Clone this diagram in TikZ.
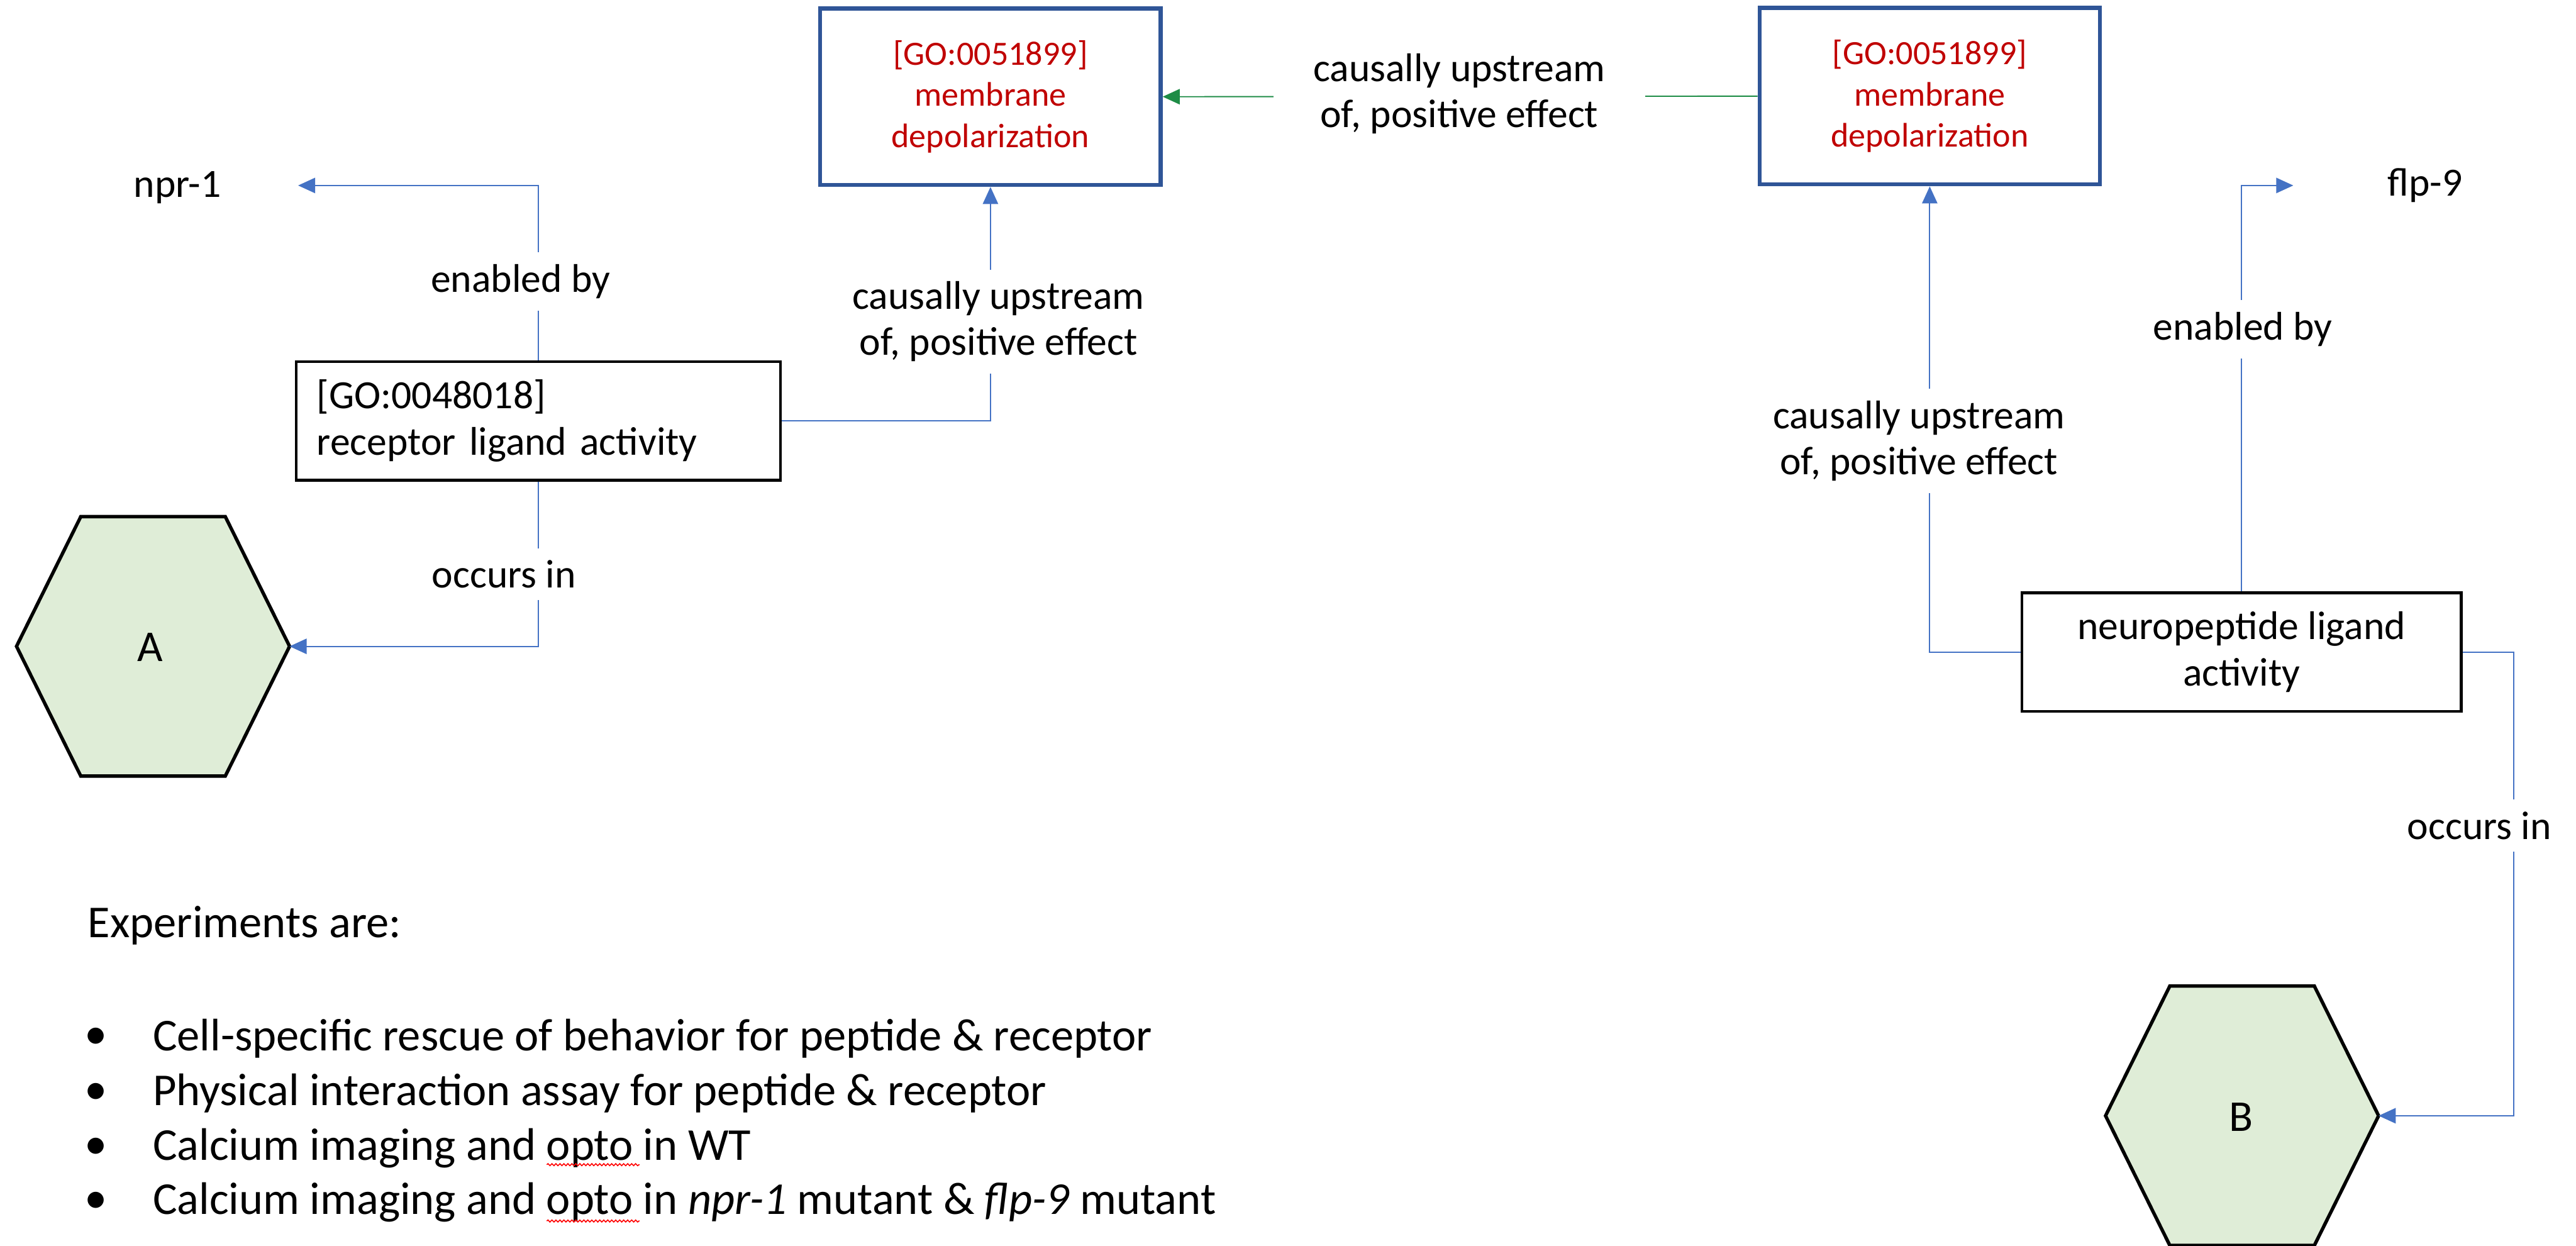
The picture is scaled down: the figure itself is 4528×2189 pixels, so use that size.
\documentclass[tikz,border=0pt]{standalone}
\usepackage{fontspec}
\setmainfont{Carlito}
\usetikzlibrary{arrows.meta,decorations.pathmorphing}
\definecolor{linkblue}{RGB}{68,114,196}
\definecolor{linkgreen}{RGB}{30,140,70}
\definecolor{goblue}{RGB}{47,85,151}
\definecolor{gored}{RGB}{192,0,0}
\definecolor{hexgreen}{RGB}{223,237,215}
\begin{document}
\begin{tikzpicture}[x=0.01cm,y=-0.01cm,
  conn/.style={draw=linkblue, line width=0.6pt, -{Triangle[length=0.3cm,width=0.27cm]}},
  lbl/.style={fill=white, inner sep=6pt, align=center, font=\fontsize{20}{22.8}\selectfont},
  plaintext/.style={inner sep=0pt, font=\fontsize{20}{22.8}\selectfont},
  gobox/.style={draw=goblue, line width=2pt, minimum width=5.98cm, minimum height=3.1cm,
    inner sep=0pt, align=center, text=gored, font=\fontsize{17}{20.5}\selectfont},
  actbox/.style={draw=black, line width=1.3pt, minimum height=2.08cm, inner sep=0pt,
    font=\fontsize{20}{23.3}\selectfont},
  hexcell/.style={draw=black, line width=1.7pt, fill=hexgreen, line join=miter},
  hexlabel/.style={inner sep=0pt, font=\fontsize{22}{26}\selectfont},
  listtext/.style={anchor=west, inner sep=0pt, font=\fontsize{22.8}{27}\selectfont},
  spell/.style={draw=red, line width=0.5pt, decorate,
    decoration={snake, amplitude=0.018cm, segment length=0.07cm}}
]
\useasboundingbox (0,0) rectangle (4528,2189);

% process boxes
\node[gobox] (go1) at (1741,170) {[GO:0051899]\\membrane\\depolarization};
\node[gobox] (go2) at (3392,169) {[GO:0051899]\\membrane\\depolarization};

% activity boxes
\node[actbox, minimum width=8.51cm, text width=7.79cm, inner xsep=0.36cm, align=left]
  (rec) at (946.5,740) {[GO:0048018]\\receptor ligand activity};
\node[actbox, minimum width=7.72cm, align=center]
  (neu) at (3940,1146) {neuropeptide ligand\\activity};

% cell hexagons
\coordinate (hA) at (269,1136);
\coordinate (hB) at (3941,1961);
\draw[hexcell, shift={(hA)}] (-240,0) -- (-127,-228) -- (127,-228) -- (240,0)
  -- (127,228) -- (-127,228) -- cycle;
\draw[hexcell, shift={(hB)}] (-240,0) -- (-127,-228) -- (127,-228) -- (240,0)
  -- (127,228) -- (-127,228) -- cycle;
\coordinate (Aright) at (509,1136);
\coordinate (Bright) at (4181,1961);
\node[hexlabel] (A) at (264,1138) {A};
\node[hexlabel] (B) at (3939,1963) {B};

% gene products
\node[plaintext] (npr) at (312,330) {npr-1};
\node[plaintext] (flp) at (4263,326) {flp-9};
\coordinate (nprIn) at (524,326);
\coordinate (flpIn) at (4031,326);

% connectors
\draw[conn] (rec.north) |- (nprIn);
\draw[conn] (rec.east) -| (go1.south);
\draw[conn] (rec.south) |- (Aright);
\draw[conn, draw=linkgreen] (go2.west) -- (go1.east);
\draw[conn] (neu.west) -| (go2.south);
\draw[conn] (neu.north) |- (flpIn);
\draw[conn] (neu.east) -- ++(90,0) |- (Bright);

% connector labels
\node[lbl] (l1) at (915,495) {enabled by};
\node[lbl] (l2) at (1755,565) {causally upstream\\of, positive effect};
\node[lbl] (l3) at (886,1009) {occurs in};
\node[lbl, inner xsep=20pt] (l4) at (2565,165) {causally upstream\\of, positive effect};
\node[lbl] (l5) at (3373,775) {causally upstream\\of, positive effect};
\node[lbl] (l6) at (3942,579) {enabled by};
\node[lbl] (l7) at (4358,1451) {occurs in};

% list of experiments
\node[listtext] (head) at (154,1627) {Experiments are:};
\foreach \y/\n in {1825/1,1922/2,2018/3,2113/4}
  \node[inner sep=0pt, font=\fontsize{22.8}{27}\selectfont] (dot\n) at (169,\y) {\textbullet};
\node[listtext] (e1) at (268,1825) {Cell-specific rescue of behavior for peptide \& receptor};
\node[listtext] (e2) at (268,1922) {Physical interaction assay for peptide \& receptor};
\node[listtext] (e3) at (268,2018) {Calcium imaging and opto in WT};
\node[listtext] (e4) at (268,2113) {Calcium imaging and opto in \textit{npr-1} mutant \& \textit{flp-9} mutant};
\draw[spell] (961,2047) -- (1124,2047);
\draw[spell] (961,2146) -- (1124,2146);
\end{tikzpicture}
\end{document}
